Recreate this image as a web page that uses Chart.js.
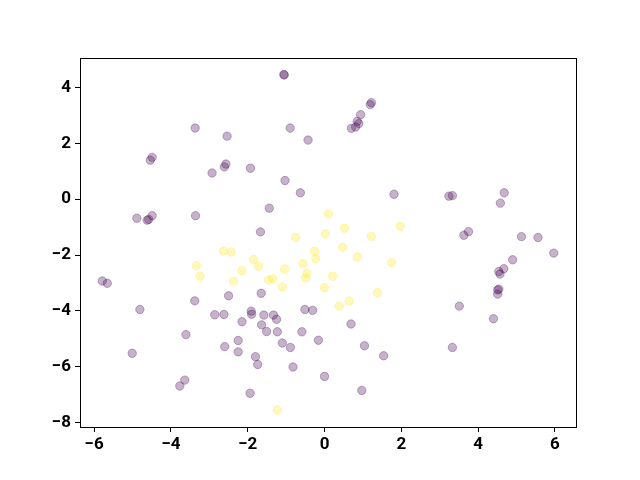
<!DOCTYPE html>
<html>
<head>
<meta charset="utf-8">
<script src="https://cdn.jsdelivr.net/npm/chart.js@4"></script>
<style>
  html, body { margin: 0; padding: 0; background: #fff; }
  #wrap { width: 640px; height: 480px; }
</style>
</head>
<body>
<div id="wrap"><canvas id="scatter" width="640" height="480"></canvas></div>
<script>
// class 0 (purple) points
const purpleX = [-1.06, -1.05, -3.37, -2.54, -0.895, -0.43, -4.49, -4.54, -2.57, -2.61, -2.93, -1.93, -1.03, -0.63,
  -4.89, -4.49, -4.62, -4.58, -3.36, -1.44, -1.67, 1.22, 1.19, 0.94, 0.85, 0.89, 0.81, 0.70, 1.81, 3.24, 3.33,
  4.68, 4.58, 3.63, 3.75, 5.13, 5.56,
  -5.79, -5.66, -4.81, -5.01, -3.61, -3.38, -3.77, -3.64, -2.50, -2.86, -2.62, -1.65, -1.91, -1.90, -2.15, -1.58,
  -1.33, -1.25, -1.64, -1.51, -1.23, -2.25, -2.60, -2.25, -1.80, -1.74, -1.10, -0.89, -0.82, -1.94, -0.51, -0.31,
  -0.59, -0.16, 0.0,
  0.69, 1.04, 1.54, 0.97, 3.51, 3.33, 4.40, 4.51, 4.54, 4.51, 4.57, 4.54, 4.67, 4.90, 5.97];
const purpleY = [4.47, 4.45, 2.55, 2.26, 2.55, 2.12, 1.50, 1.40, 1.26, 1.16, 0.94, 1.11, 0.67, 0.23,
  -0.68, -0.59, -0.75, -0.72, -0.59, -0.32, -1.17, 3.46, 3.39, 3.03, 2.79, 2.71, 2.59, 2.54, 0.18, 0.11, 0.13,
  0.23, -0.14, -1.29, -1.16, -1.34, -1.37,
  -2.93, -3.01, -3.95, -5.52, -4.85, -3.64, -6.69, -6.48, -3.46, -4.14, -4.13, -3.37, -4.01, -4.12, -4.39, -4.15,
  -4.15, -4.30, -4.50, -4.74, -4.75, -5.06, -5.28, -5.47, -5.64, -5.92, -5.15, -5.31, -6.01, -6.95, -3.95, -3.98,
  -4.75, -5.05, -6.35,
  -4.47, -5.25, -5.61, -6.85, -3.83, -5.31, -4.28, -3.40, -3.22, -3.25, -2.68, -2.59, -2.49, -2.17, -1.93];

// class 1 (yellow) points
const yellowX = [0.10, 0.02, -0.75, 0.52, 1.22, 1.97, -2.63, -2.43, -3.34, -3.24, -1.85, -1.72, -2.15, -2.37,
  -1.04, -1.46, -1.35, -1.10, -0.26, -0.23, -0.56, -0.46, -0.49, 0.0, -1.23, 0.47, 0.85, 1.75, 0.21, 1.38, 0.64, 0.38];
const yellowY = [-0.53, -1.24, -1.37, -1.04, -1.33, -0.97, -1.86, -1.89, -2.38, -2.76, -2.16, -2.40, -2.56, -2.94,
  -2.50, -2.89, -2.85, -3.14, -1.86, -2.13, -2.31, -2.65, -2.82, -3.17, -7.55, -1.72, -2.07, -2.27, -2.76, -3.35, -3.65, -3.83];

const xTicks = [-6, -4, -2, 0, 2, 4, 6];
const yTicks = [-8, -6, -4, -2, 0, 2, 4];

function toPoints(xs, ys) {
  return xs.map((x, i) => ({ x: x, y: ys[i] }));
}

// matplotlib style minus sign
function fmt(v) {
  return v < 0 ? '\u2212' + Math.abs(v) : String(v);
}

// full box around the plot area (matplotlib spines)
const frame = {
  id: 'frame',
  afterDraw(chart) {
    const a = chart.chartArea;
    const c = chart.ctx;
    c.save();
    c.strokeStyle = '#000';
    c.lineWidth = 1;
    c.strokeRect(Math.round(a.left) + 0.5, Math.round(a.top) + 0.5,
      Math.round(a.right - a.left), Math.round(a.bottom - a.top));
    c.restore();
  }
};

const tickFont = { family: 'Roboto, "Liberation Sans", sans-serif', size: 17, weight: 'bold' };

const ctx = document.getElementById('scatter').getContext('2d');
const chart = new Chart(ctx, {
  type: 'scatter',
  data: {
    datasets: [{
      data: toPoints(purpleX, purpleY),
      backgroundColor: 'rgba(68,1,84,0.3)',
      borderColor: 'rgba(68,1,84,0.3)',
      borderWidth: 1,
      pointRadius: 4.2
    }, {
      data: toPoints(yellowX, yellowY),
      backgroundColor: 'rgba(253,231,37,0.3)',
      borderColor: 'rgba(253,231,37,0.3)',
      borderWidth: 1,
      pointRadius: 4.2
    }]
  },
  options: {
    responsive: false,
    animation: false,
    layout: { padding: { top: 58, right: 64, left: 0, bottom: 0 } },
    plugins: { legend: { display: false }, tooltip: { enabled: false } },
    scales: {
      x: {
        type: 'linear',
        min: -6.37,
        max: 6.55,
        afterBuildTicks: s => { s.ticks = xTicks.map(v => ({ value: v })); },
        afterFit: s => { s.height = 53; },
        grid: { drawOnChartArea: false, color: '#000', tickLength: 5, tickWidth: 1 },
        border: { color: '#000', width: 1 },
        ticks: { color: '#000', font: tickFont, padding: 3, maxRotation: 0, callback: fmt }
      },
      y: {
        type: 'linear',
        min: -8.16,
        max: 5.06,
        afterBuildTicks: s => { s.ticks = yTicks.map(v => ({ value: v })); },
        afterFit: s => { s.width = 80; },
        grid: { drawOnChartArea: false, color: '#000', tickLength: 5, tickWidth: 1 },
        border: { color: '#000', width: 1 },
        ticks: { color: '#000', font: tickFont, padding: 4, callback: fmt }
      }
    }
  },
  plugins: [frame]
});
</script>
</body>
</html>
